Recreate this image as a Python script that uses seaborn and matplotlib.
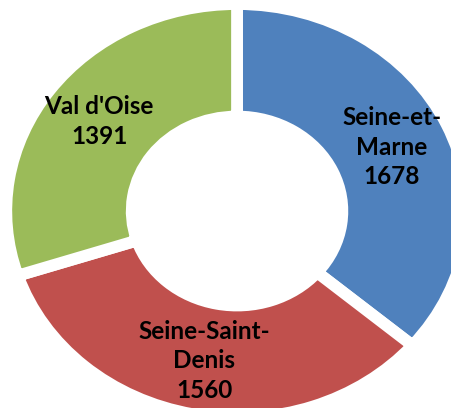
import matplotlib
matplotlib.use("Agg")
import matplotlib.pyplot as plt
import seaborn as sns

# departements and their counts
departements = ["Seine-et-\nMarne", "Seine-Saint-\nDenis", "Val d'Oise"]
valeurs = [1678, 1560, 1391]
couleurs = ["#4F81BD", "#C0504D", "#9BBB59"]

sns.set_theme(style="white")
plt.rcParams['font.family'] = ['Lato', 'DejaVu Sans']

fig = plt.figure(figsize=(4.51, 4.08), dpi=100)
ax = fig.add_axes([0, 0, 1, 1])

labels = [f"{d}\n{v}" for d, v in zip(departements, valeurs)]
wedges, texts = ax.pie(valeurs, labels=labels, colors=couleurs,
                       startangle=90, counterclock=False,
                       radius=1.03, labeldistance=0.76 / 1.03,
                       wedgeprops=dict(width=0.56, edgecolor='white', linewidth=8.5),
                       textprops=dict(fontsize=17.5, fontweight='bold', color='black'))
for t in texts:
    t.set_horizontalalignment('center')
    t.set_verticalalignment('center')
    t.set_multialignment('center')
    t.set_linespacing(1.35)

ax.set_aspect('auto')
ax.set_xlim(-1.058, 0.955)
ax.set_ylim(-0.980, 1.050)
ax.axis('off')

fig.savefig("out.png", dpi=100)
